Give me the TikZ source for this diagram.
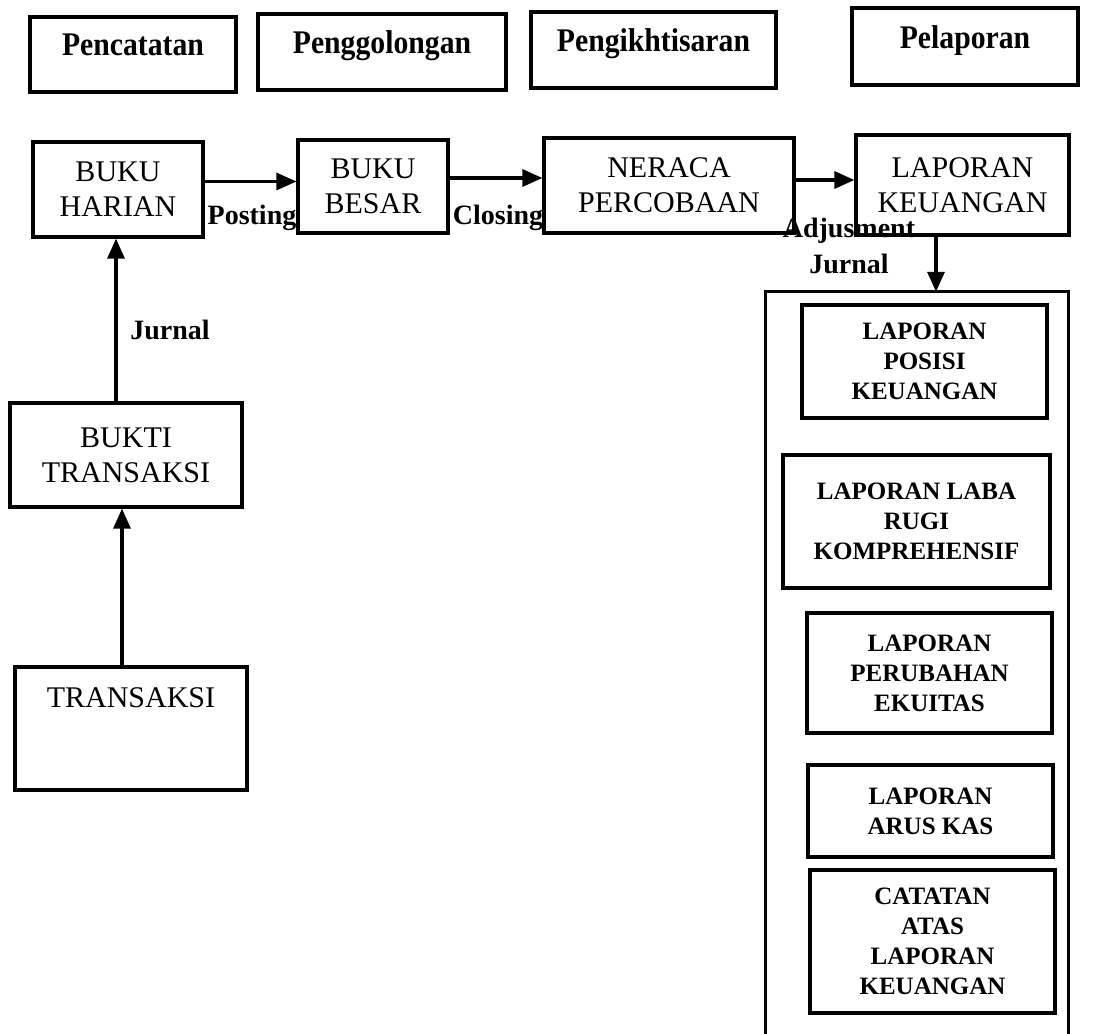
\documentclass[tikz,border=0pt]{standalone}
\usepackage{fontspec}
\setmainfont{Liberation Serif}
\usetikzlibrary{arrows.meta}
\newcommand{\stagefont}{\fontsize{33}{38}\selectfont\bfseries}
\newcommand{\narrow}[1]{\scalebox{0.9}[1]{#1}}
\begin{document}
\begin{tikzpicture}[x=1pt,y=-1pt,
  box/.style={draw, line width=3.2pt, rectangle, inner sep=0pt, align=center},
  stage/.style={box, font=\stagefont, text depth=19pt},
  flow/.style={box, font=\fontsize{30}{35}\selectfont},
  report/.style={box, font=\fontsize{25}{30}\selectfont\bfseries},
  lbl/.style={inner sep=0pt, align=center, font=\fontsize{28}{36}\selectfont\bfseries},
  arr/.style={line width=3.2pt, -{Triangle[length=20pt,width=17pt]}}]
\useasboundingbox (0,0) rectangle (1093,1034);

% stage headings
\node[stage, minimum width=206pt, minimum height=75pt] (pen) at (133,54.5) {\narrow{Pencatatan}};
\node[stage, minimum width=248pt, minimum height=76pt] (gol) at (382,52) {\narrow{Penggolongan}};
\node[stage, minimum width=245pt, minimum height=76pt] (ikh) at (653.5,50) {\narrow{Pengikhtisaran}};
\node[stage, minimum width=226pt, minimum height=77pt] (lap) at (965,46.5) {\narrow{Pelaporan}};

% main flow
\node[flow, minimum width=170pt, minimum height=95pt] (harian) at (118,189.5) {BUKU\\HARIAN};
\node[flow, minimum width=150pt, minimum height=93pt] (besar) at (373,186.5) {BUKU\\BESAR};
\node[flow, minimum width=250pt, minimum height=95pt] (neraca) at (669,185.5) {NERACA\\PERCOBAAN};
\node[flow, minimum width=213pt, minimum height=100pt] (lapkeu) at (962.5,185) {LAPORAN\\KEUANGAN};

\node[flow, minimum width=232pt, minimum height=104pt] (bukti) at (126,455) {BUKTI\\TRANSAKSI};
\node[flow, minimum width=232pt, minimum height=123pt, text depth=61pt] (trans) at (131,728.5) {TRANSAKSI};

% report group
\node[inner sep=0pt, minimum width=302pt, minimum height=742pt] (outer) at (917,663) {};
\draw[line width=3.2pt] (outer.south west) -- (outer.north west) -- (outer.north east) -- (outer.south east);

\node[report, minimum width=245pt, minimum height=113pt] (posisi) at (924.5,361.5) {LAPORAN\\POSISI\\KEUANGAN};
\node[report, minimum width=267pt, minimum height=133pt] (laba) at (916.5,521.5) {LAPORAN LABA\\RUGI\\KOMPREHENSIF};
\node[report, minimum width=245pt, minimum height=120pt] (ekuitas) at (929.5,673) {LAPORAN\\PERUBAHAN\\EKUITAS};
\node[report, minimum width=245pt, minimum height=92pt] (arus) at (930.5,811) {LAPORAN\\ARUS KAS};
\node[report, minimum width=245pt, minimum height=143pt] (calk) at (932.5,941.5) {CATATAN\\ATAS\\LAPORAN\\KEUANGAN};

% connectors
\draw[arr] ([xshift=-9pt]trans.north) -- ([xshift=-9pt]trans.north |- bukti.south);
\draw[arr] ([xshift=-10pt]bukti.north) -- ([xshift=-10pt]bukti.north |- harian.south);
\draw[arr] ([yshift=8pt]harian.east) -- ([yshift=8pt]harian.east -| besar.west);
\draw[arr] ([yshift=8.5pt]besar.east) -- ([yshift=8.5pt]besar.east -| neraca.west);
\draw[arr] ([yshift=5.5pt]neraca.east) -- ([yshift=5.5pt]neraca.east -| lapkeu.west);
\draw[arr] ([xshift=-26.5pt]lapkeu.south) -- ([xshift=-26.5pt]lapkeu.south |- outer.north);

% connector labels
\node[lbl] (jurnal) at (170,330) {Jurnal};
\node[lbl, anchor=base] (posting) at (252,224) {Posting};
\node[lbl, anchor=base] (closing) at (498,224) {Closing};
\node[lbl, anchor=base] (adjust) at (849,273) {Adjusment\\Jurnal};
\end{tikzpicture}
\end{document}
